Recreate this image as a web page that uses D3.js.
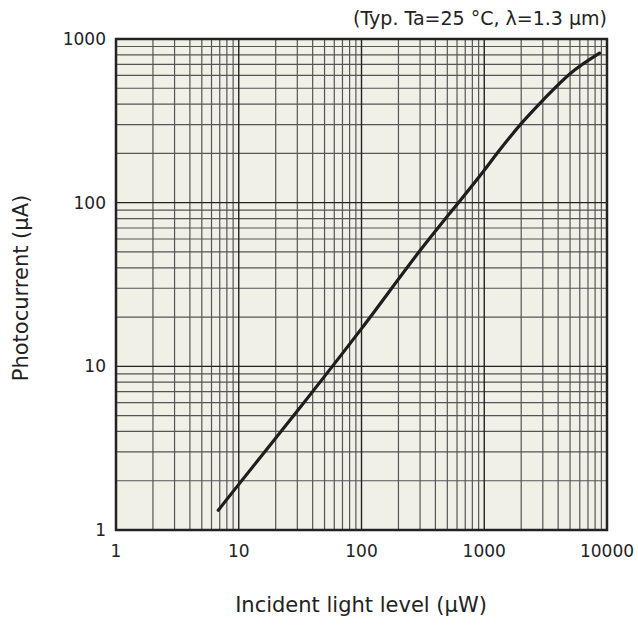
<!DOCTYPE html>
<html>
<head>
<meta charset="utf-8">
<script src="https://cdn.jsdelivr.net/npm/d3@7"></script>
<style>
  body { margin: 0; background: #fff; }
  text { font-family: "DejaVu Sans", Verdana, sans-serif; fill: #222; }
</style>
</head>
<body>
<div id="chart"></div>
<script>
const margin = {'top':39,'right':31,'bottom':95,'left':116};
const width = 638 - margin.left - margin.right;
const height = 625 - margin.top - margin.bottom;

const lightLevel = [6.8, 10, 31, 100, 300, 1000, 1330, 2000, 3000, 5000, 8700];
const photocurrent = [1.32, 1.9, 5.5, 17, 51, 158, 209, 304, 422, 614, 820];
const xTicks = [1, 10, 100, 1000, 10000];
const yTicks = [1, 10, 100, 1000];

var svg = d3.select('#chart')
  .append('svg')
  .attr('width', 638)
  .attr('height', 625)
  .append('g')
  .attr('transform', `translate(${margin.left},${margin.top})`);

var x = d3.scaleLog().domain([1, 10000]).range([0, width]);
var y = d3.scaleLog().domain([1, 1000]).range([height, 0]);

svg.append('rect')
  .attr('width', width).attr('height', height)
  .attr('fill', '#f1f0e7');

// grid: every 1..9 step of each decade
function minor(domain){
  let out = [];
  for (let d = domain[0]; d < domain[1]; d *= 10)
    for (let k = 2; k <= 9; k++) out.push(d * k);
  return out;
}

svg.append('g').selectAll('line')
  .data(minor(x.domain()))
  .join('line')
  .attr('x1', d => x(d)).attr('x2', d => x(d))
  .attr('y1', 0).attr('y2', height)
  .attr('stroke', '#555').attr('stroke-width', 1.2);

svg.append('g').selectAll('line')
  .data(minor(y.domain()))
  .join('line')
  .attr('y1', d => y(d)).attr('y2', d => y(d))
  .attr('x1', 0).attr('x2', width)
  .attr('stroke', '#555').attr('stroke-width', 1.2);

svg.append('g').selectAll('line')
  .data(xTicks)
  .join('line')
  .attr('x1', d => x(d)).attr('x2', d => x(d))
  .attr('y1', 0).attr('y2', height)
  .attr('stroke', '#222').attr('stroke-width', 1.4);

svg.append('g').selectAll('line')
  .data(yTicks)
  .join('line')
  .attr('y1', d => y(d)).attr('y2', d => y(d))
  .attr('x1', 0).attr('x2', width)
  .attr('stroke', '#222').attr('stroke-width', 1.4);

svg.append('rect')
  .attr('width', width).attr('height', height)
  .attr('fill', 'none').attr('stroke', '#222').attr('stroke-width', 2.5);

// curve
var line = d3.line()
  .x(d => x(d[0]))
  .y(d => y(d[1]))
  .curve(d3.curveMonotoneX);

svg.append('path')
  .datum(d3.zip(lightLevel, photocurrent))
  .attr('d', line)
  .attr('fill', 'none')
  .attr('stroke', '#1e1e1e')
  .attr('stroke-width', 3.2)
  .attr('stroke-linecap', 'round');

// tick labels
svg.append('g').selectAll('text')
  .data(xTicks)
  .join('text')
  .attr('x', d => x(d)).attr('y', height + 27)
  .attr('text-anchor', 'middle')
  .style('font-size', '17px')
  .text(d => d);

svg.append('g').selectAll('text')
  .data(yTicks)
  .join('text')
  .attr('x', -10).attr('y', d => y(d) + 6)
  .attr('text-anchor', 'end')
  .style('font-size', '17px')
  .text(d => d);

// labels
svg.append('text')
  .attr('x', width).attr('y', -14)
  .attr('text-anchor', 'end')
  .style('font-size', '19px')
  .text('(Typ. Ta=25 °C, λ=1.3 µm)');

svg.append('text')
  .attr('x', 361 - margin.left).attr('y', height + 82)
  .attr('text-anchor', 'middle')
  .style('font-size', '21px')
  .text('Incident light level (µW)');

svg.append('text')
  .attr('transform', `translate(${28 - margin.left},${288 - margin.top}) rotate(-90)`)
  .attr('text-anchor', 'middle')
  .style('font-size', '21px')
  .text('Photocurrent (µA)');
</script>
</body>
</html>
